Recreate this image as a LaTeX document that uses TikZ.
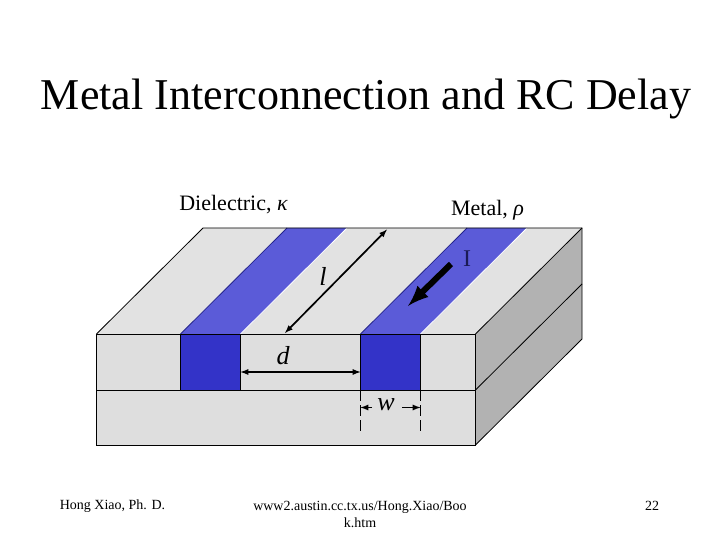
\documentclass[tikz,border=0pt]{standalone}
\usepackage{fontspec}
\setmainfont{Liberation Serif}
\usetikzlibrary{calc}
\definecolor{facegray}{HTML}{DEDEDE}
\definecolor{topgray}{HTML}{E2E2E2}
\definecolor{sidegray}{HTML}{B2B2B2}
\definecolor{metalfront}{HTML}{3333C8}
\definecolor{metaltop}{HTML}{5B5BD8}
\definecolor{currentblue}{HTML}{1A1A55}
\begin{document}
\begin{tikzpicture}[x=1pt,y=-1pt]
	\tikzstyle{edge}=[draw=black,line width=0.8pt]
	\tikzstyle{dimline}=[draw=black,line width=1.7pt,>=latex]
	\tikzstyle{label}=[inner sep=0pt,font=\fontsize{22}{26}\selectfont]
	\tikzstyle{foot}=[inner sep=0pt,align=center,font=\fontsize{14}{17}\selectfont]
	\useasboundingbox[fill=white] (0,0) rectangle (720,540);

	\coordinate (fl) at (96.5,334);
	\coordinate (fr) at (475.5,334);
	\coordinate (ml) at (96.5,390);
	\coordinate (mr) at (475.5,390);
	\coordinate (bl) at (96.5,445);
	\coordinate (br) at (475.5,445);
	\coordinate (depth) at (106.5,-106);

	\coordinate (a1) at (180.5,334);
	\coordinate (a2) at (240.5,334);
	\coordinate (a3) at (180.5,390);
	\coordinate (a4) at (240.5,390);
	\coordinate (c1) at (360.5,334);
	\coordinate (c2) at (420.5,334);
	\coordinate (c3) at (360.5,390);
	\coordinate (c4) at (420.5,390);

	\fill[facegray] (fl) rectangle (br);
	\fill[topgray] (fl) -- ($(fl)+(depth)$) -- ($(fr)+(depth)$) -- (fr) -- cycle;
	\fill[sidegray] (fr) -- ($(fr)+(depth)$) -- ($(br)+(depth)$) -- (br) -- cycle;

	\fill[metaltop] (a1) -- ($(a1)+(depth)$) -- ($(a2)+(depth)$) -- (a2) -- cycle;
	\fill[metaltop] (c1) -- ($(c1)+(depth)$) -- ($(c2)+(depth)$) -- (c2) -- cycle;
	\draw[white,line width=0.8pt] (a2) -- ($(a2)+(depth)$);
	\draw[white,line width=0.8pt] (c2) -- ($(c2)+(depth)$);
	\draw[metalfront!70!black,line width=0.8pt] (a1) -- ($(a1)+(depth)$);
	\draw[metalfront!70!black,line width=0.8pt] (c1) -- ($(c1)+(depth)$);
	\fill[metalfront] (a1) rectangle (a4);
	\fill[metalfront] (c1) rectangle (c4);

	\draw[edge] (a1) -- (a3);
	\draw[edge] (a2) -- (a4);
	\draw[edge] (c1) -- (c3);
	\draw[edge] (c2) -- (c4);
	\draw[edge] (fl) rectangle (br);
	\draw[edge] (ml) -- (mr);
	\draw[edge] (fl) -- ($(fl)+(depth)$) -- ($(fr)+(depth)$) -- ($(br)+(depth)$) -- (br);
	\draw[edge] (fr) -- ($(fr)+(depth)$);
	\draw[edge] (mr) -- ($(mr)+(depth)$);

	\node[inner sep=0pt,font=\fontsize{44}{52}\selectfont] (title) at (366,99) {Metal Interconnection and RC Delay};
	\node[label] (dielectric) at (233.5,205) {Dielectric, {\itshape κ}};
	\node[label] (metal) at (487.5,210) {Metal, {\itshape ρ}};
	\node[label,font=\fontsize{26}{30}\itshape] (lname) at (323,276) {l};
	\node[label,text=currentblue,font=\fontsize{24}{28}\selectfont] (iname) at (467,259) {I};
	\node[label,font=\fontsize{26}{30}\itshape] (dname) at (283,356) {d};
	\node[label,font=\fontsize{26}{30}\itshape] (wname) at (386,405) {w};

	\coordinate (lstart) at (285,333);
	\coordinate (lend) at (387,229.5);
	\draw[dimline,<->] (lstart) -- (lend);

	\coordinate (dstart) at ($(a2)+(0,38)$);
	\coordinate (dend) at ($(c1)+(0,38)$);
	\draw[dimline,<->] (dstart) -- (dend);

	\coordinate (wleft) at (360.5,407.5);
	\coordinate (wright) at (420.5,407.5);
	\coordinate (wl) at (372,407.5);
	\coordinate (wr) at (402,407.5);
	\draw[dimline,->] (wl) -- (wleft);
	\draw[dimline,->] (wr) -- (wright);
	\draw[edge,dash pattern=on 11pt off 4pt] (c3) -- ($(c3)+(0,42)$);
	\draw[edge,dash pattern=on 11pt off 4pt] (c4) -- ($(c4)+(0,42)$);

	\coordinate (istart) at (451,264);
	\coordinate (iend) at (408,306);
	\draw[draw=black,line width=6pt,-latex] (istart) -- (iend);

	\node[foot] (author) at (112.5,506) {Hong Xiao, Ph. D.};
	\node[foot] (url) at (360,514) {www2.austin.cc.tx.us/Hong.Xiao/Boo\\k.htm};
	\node[foot] (page) at (652,506) {22};
\end{tikzpicture}
\end{document}
